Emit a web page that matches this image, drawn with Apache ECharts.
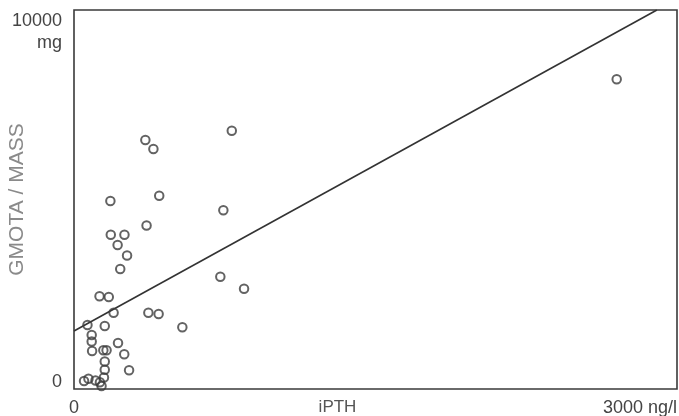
<!DOCTYPE html>
<html>
<head>
<meta charset="utf-8">
<script src="https://cdn.jsdelivr.net/npm/echarts@6/dist/echarts.min.js"></script>
<style>html,body{margin:0;padding:0;background:#fff;}#c{width:679px;height:416px;}</style>
</head>
<body>
<div id="c"></div>
<script>
// iPTH (ng/l) values
var iPTH = [785, 355, 395, 424, 181, 743, 361, 183, 251, 217, 264, 230, 728, 846, 127, 173, 197, 370, 421, 67, 153, 539, 88, 88, 219, 90, 146, 162, 250, 153, 153, 274, 149, 50, 72, 107, 129, 137, 2700];
// GMOTA / MASS (mg) values
var gmota = [6815, 6570, 6332, 5100, 4960, 4715, 4314, 4071, 4071, 3799, 3522, 3166, 2963, 2646, 2446, 2427, 2013, 2013, 1979, 1689, 1662, 1628, 1425, 1253, 1214, 1003, 1021, 1021, 916, 726, 509, 493, 303, 211, 269, 224, 177, 79, 8171];
// regression line end points
var fitX = [0, 2900];
var fitY = [1530, 10000];
var xTicks = [0, 3000];
var yTicks = [0, 10000];

var points = iPTH.map(function (x, i) { return [x, gmota[i]]; });
var fit = fitX.map(function (x, i) { return [x, fitY[i]]; });

var chart = echarts.init(document.getElementById('c'), null, { renderer: 'canvas' });
chart.setOption({
  backgroundColor: '#ffffff',
  animation: false,
  grid: { left: 74, right: 2, top: 10, bottom: 27, containLabel: false, outerBoundsMode: 'none', show: true, borderColor: '#3a3a3a', borderWidth: 1.6, backgroundColor: 'transparent' },
  xAxis: {
    type: 'value', min: xTicks[0], max: xTicks[1], interval: 3000,
    name: 'iPTH', nameLocation: 'middle', nameGap: 10, nameMoveOverlap: false,
    nameTextStyle: { fontFamily: 'Liberation Sans', fontSize: 17, color: '#555', padding: [0, 76, 0, 0], verticalAlign: 'top' },
    axisLine: { show: false }, axisTick: { show: false }, splitLine: { show: false },
    axisLabel: {
      margin: 10, fontFamily: 'Liberation Sans', fontSize: 18, color: '#444',
      alignMaxLabel: 'right', alignMinLabel: 'center',
      formatter: function (v) { return v === xTicks[1] ? v + ' ng/l' : String(v); }
    }
  },
  yAxis: {
    type: 'value', min: yTicks[0], max: yTicks[1], interval: 10000,
    name: 'GMOTA / MASS', nameLocation: 'middle', nameGap: 46, nameRotate: 90, nameMoveOverlap: false,
    nameTextStyle: { fontFamily: 'Liberation Sans', fontSize: 21, color: '#8a8a8a' },
    axisLine: { show: false }, axisTick: { show: false }, splitLine: { show: false },
    axisLabel: {
      margin: 12, fontFamily: 'Liberation Sans', fontSize: 18, color: '#444',
      formatter: function (v) {
        if (v === yTicks[1]) return '{s| }\n{s| }\n{a|' + v + '}\n{a|mg}';
        return '{z|' + v + '}\n{z| }';
      },
      rich: {
        s: { lineHeight: 22, fontSize: 18 },
        a: { lineHeight: 22, fontSize: 18, fontFamily: 'Liberation Sans', color: '#444', align: 'right' },
        z: { lineHeight: 14, fontSize: 18, fontFamily: 'Liberation Sans', color: '#444' }
      }
    }
  },
  series: [
    {
      type: 'line', data: fit, showSymbol: false, symbol: 'none',
      lineStyle: { color: '#333', width: 1.6 }, z: 2
    },
    {
      type: 'scatter', data: points, symbol: 'circle', symbolSize: 8.5,
      itemStyle: { color: 'rgba(255,255,255,0)', borderColor: '#3c3c3c', borderWidth: 2 }, z: 3
    }
  ]
});
</script>
</body>
</html>
